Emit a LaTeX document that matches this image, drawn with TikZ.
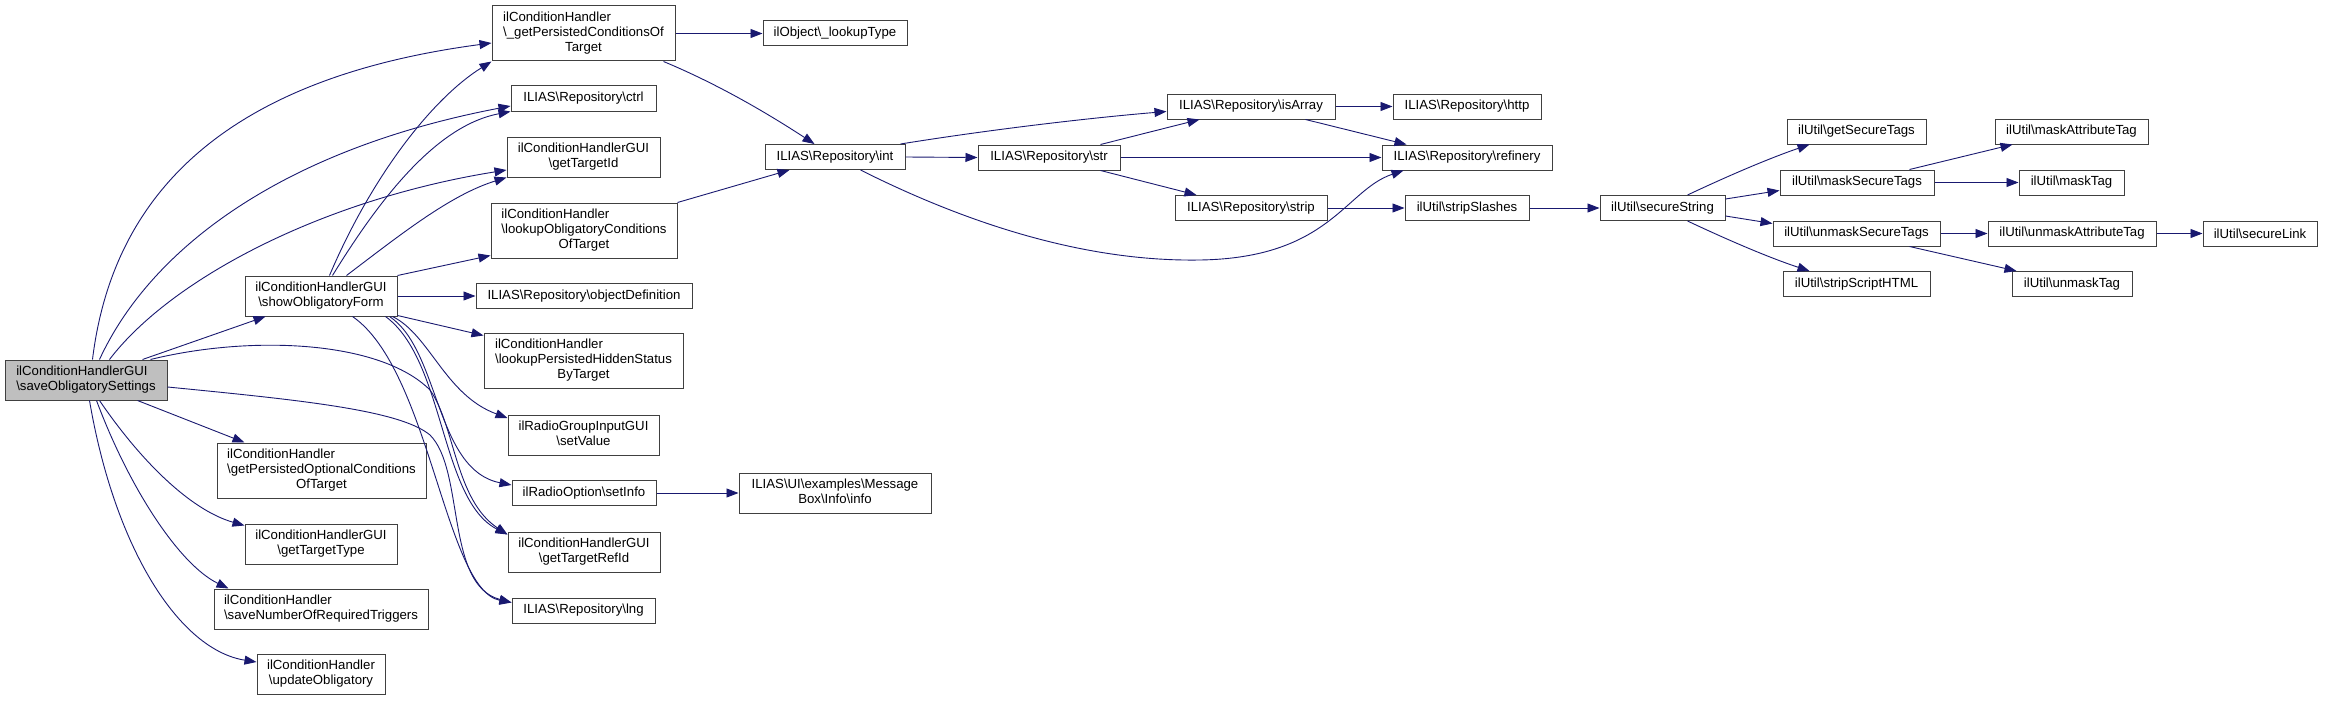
\documentclass[tikz,border=0pt]{standalone}
\usepackage{fontspec}
\setmainfont{Liberation Sans}
\usetikzlibrary{arrows.meta,calc}
\definecolor{edgec}{RGB}{25,25,112}
\definecolor{boxc}{RGB}{64,64,64}
\definecolor{selc}{RGB}{191,191,191}
\newcommand{\bs}{\textbackslash}
\newcommand{\twol}[2]{\begin{tabular}{@{}l@{}}#1\\\multicolumn{1}{@{}c@{}}{#2}\end{tabular}}
\newcommand{\threel}[3]{\begin{tabular}{@{}l@{}}#1\\#2\\\multicolumn{1}{@{}c@{}}{#3}\end{tabular}}
\begin{document}
\begin{tikzpicture}[x=1pt,y=-1pt,
  box/.style={draw=boxc, line width=1pt, fill=white, inner sep=0pt,
    font=\fontsize{13.2}{15}\selectfont, text=black},
  e/.style={draw=edgec, line width=0.9pt, -{Triangle[length=12pt,width=9pt]}}]
\useasboundingbox (0,0) rectangle (2327,701);
\fill[white] (0,0) rectangle (2327,701);

% column 0
\node[box, fill=selc, minimum width=162, minimum height=40] (S) at (86,380) {\twol{ilConditionHandlerGUI}{\bs saveObligatorySettings}};
% column 1
\node[box, minimum width=152, minimum height=40] (F) at (321,296) {\twol{ilConditionHandlerGUI}{\bs showObligatoryForm}};
\node[box, minimum width=209, minimum height=55] (GPO) at (321.5,470.5) {\threel{ilConditionHandler}{\bs getPersistedOptionalConditions}{OfTarget}};
\node[box, minimum width=152, minimum height=40] (GTT) at (321,544) {\twol{ilConditionHandlerGUI}{\bs getTargetType}};
\node[box, minimum width=214, minimum height=40] (SNR) at (321,609) {\twol{ilConditionHandler}{\bs saveNumberOfRequiredTriggers}};
\node[box, minimum width=128, minimum height=40] (UO) at (321,674) {\twol{ilConditionHandler}{\bs updateObligatory}};
% column 2
\node[box, minimum width=183, minimum height=55] (P) at (583.5,33.5) {\threel{ilConditionHandler}{\bs\_getPersistedConditionsOf}{Target}};
\node[box, minimum width=145, minimum height=25] (CTRL) at (583.5,98.5) {ILIAS\bs Repository\bs ctrl};
\node[box, minimum width=153, minimum height=40] (GTI) at (583.5,157) {\twol{ilConditionHandlerGUI}{\bs getTargetId}};
\node[box, minimum width=186, minimum height=55] (LOC) at (584,230.5) {\threel{ilConditionHandler}{\bs lookupObligatoryConditions}{OfTarget}};
\node[box, minimum width=216, minimum height=25] (OD) at (584,296) {ILIAS\bs Repository\bs objectDefinition};
\node[box, minimum width=199, minimum height=55] (LPH) at (583.5,360.5) {\threel{ilConditionHandler}{\bs lookupPersistedHiddenStatus}{ByTarget}};
\node[box, minimum width=151, minimum height=40] (SV) at (583.5,435) {\twol{ilRadioGroupInputGUI}{\bs setValue}};
\node[box, minimum width=144, minimum height=25] (SI) at (584,493) {ilRadioOption\bs setInfo};
\node[box, minimum width=152, minimum height=40] (GTR) at (584,552) {\twol{ilConditionHandlerGUI}{\bs getTargetRefId}};
\node[box, minimum width=143, minimum height=25] (LNG) at (583.5,610.5) {ILIAS\bs Repository\bs lng};
% column 3
\node[box, minimum width=144, minimum height=25] (LT) at (835,33.5) {ilObject\bs\_lookupType};
\node[box, minimum width=140, minimum height=25] (INT) at (835,157) {ILIAS\bs Repository\bs int};
\node[box, minimum width=192, minimum height=40] (INFO) at (835,493) {\twol{ILIAS\bs UI\bs examples\bs Message}{Box\bs Info\bs info}};
% column 4
\node[box, minimum width=142, minimum height=25] (STR) at (1049,157.5) {ILIAS\bs Repository\bs str};
% column 5
\node[box, minimum width=168, minimum height=25] (ISA) at (1251,106.5) {ILIAS\bs Repository\bs isArray};
\node[box, minimum width=152, minimum height=25] (STRIP) at (1251,208) {ILIAS\bs Repository\bs strip};
% column 6
\node[box, minimum width=148, minimum height=25] (HTTP) at (1467,106.5) {ILIAS\bs Repository\bs http};
\node[box, minimum width=170, minimum height=25] (REF) at (1467,157.5) {ILIAS\bs Repository\bs refinery};
\node[box, minimum width=124, minimum height=25] (SS) at (1467,208) {ilUtil\bs stripSlashes};
% column 7
\node[box, minimum width=125, minimum height=25] (SEC) at (1662.5,208) {ilUtil\bs secureString};
% column 8
\node[box, minimum width=139, minimum height=25] (GST) at (1856.5,131.5) {ilUtil\bs getSecureTags};
\node[box, minimum width=154, minimum height=25] (MST) at (1857,182.5) {ilUtil\bs maskSecureTags};
\node[box, minimum width=167, minimum height=25] (UST) at (1856.5,233.5) {ilUtil\bs unmaskSecureTags};
\node[box, minimum width=147, minimum height=25] (SSH) at (1856.5,284) {ilUtil\bs stripScriptHTML};
% column 9
\node[box, minimum width=153, minimum height=25] (MAT) at (2071.5,131.5) {ilUtil\bs maskAttributeTag};
\node[box, minimum width=105, minimum height=25] (MT) at (2071.5,182.5) {ilUtil\bs maskTag};
\node[box, minimum width=168, minimum height=25] (UAT) at (2072,233.5) {ilUtil\bs unmaskAttributeTag};
\node[box, minimum width=120, minimum height=25] (UT) at (2072,284) {ilUtil\bs unmaskTag};
% column 10
\node[box, minimum width=114, minimum height=25] (SL) at (2260,233.5) {ilUtil\bs secureLink};

% edges from S
\draw[e] ($(S.north west)+(88,0)$) .. controls (115,175) and (250,75) .. ($(P.west)+(0,9.5)$);
\draw[e] ($(S.north west)+(95,0)$) .. controls (150,250) and (280,150) .. ($(CTRL.west)+(0,7.5)$);
\draw[e] ($(S.north west)+(105,0)$) .. controls (170,280) and (320,200) .. ($(GTI.west)+(0,13)$);
\draw[e] ($(S.north west)+(138,0)$) -- ($(F.south west)+(21,0)$);
\draw[e] ($(S.south west)+(133,0)$) -- ($(GPO.north west)+(28,0)$);
\draw[e] ($(S.south west)+(95,0)$) .. controls (140,460) and (190,510) .. ($(GTT.north west)+(0,2)$);
\draw[e] ($(S.south west)+(92,0)$) .. controls (130,490) and (180,565) .. ($(SNR.north west)+(15,0)$);
\draw[e] ($(S.south west)+(85,0)$) .. controls (115,550) and (180,650) .. ($(UO.west)+(0,-12)$);
\draw[e] ($(S.north east)+(-17,0)$) .. controls (250,335) and (380,340) .. (430,390) .. controls (455,425) and (455,500) .. ($(GTR.north west)+(0,3)$);
\draw[e] ($(S.east)+(0,7)$) .. controls (300,400) and (400,410) .. (430,435) .. controls (465,470) and (445,585) .. ($(LNG.north west)+(0,5)$);

% edges from F
\draw[e] ($(F.north west)+(85,0)$) .. controls (370,180) and (430,100) .. (P.south west);
\draw[e] ($(F.north west)+(88,0)$) .. controls (385,190) and (440,125) .. (CTRL.south west);
\draw[e] ($(F.north west)+(102,0)$) .. controls (400,235) and (450,195) .. (GTI.south west);
\draw[e] (F.north east) -- ($(LOC.south west)+(0,-3)$);
\draw[e] (F.east) -- (OD.west);
\draw[e] ($(F.south east)+(0,-1)$) -- ($(LPH.north west)+(0,3)$);
\draw[e] ($(F.south east)+(-5,0)$) .. controls (430,335) and (445,395) .. ($(SV.west)+(0,-17)$);
\draw[e] ($(F.south east)+(-8,0)$) .. controls (440,350) and (435,470) .. ($(SI.west)+(0,-8)$);
\draw[e] ($(F.south east)+(-12,0)$) .. controls (445,360) and (440,500) .. ($(GTR.north west)+(0,3)$);
\draw[e] ($(F.south west)+(108,0)$) .. controls (430,370) and (445,590) .. ($(LNG.north west)+(0,5)$);

% other edges
\draw[e] (P.east) -- (LT.west);
\draw[e] ($(P.south east)+(-12,0)$) .. controls (720,85) and (770,115) .. ($(INT.north west)+(50,0)$);
\draw[e] (LOC.north east) -- ($(INT.south west)+(25,0)$);
\draw[e] (SI.east) -- (INFO.west);
\draw[e] ($(INT.north east)+(-5,0)$) .. controls (1000,128) and (1100,117) .. ($(ISA.west)+(0,5)$);
\draw[e] (INT.east) -- (STR.west);
\draw[e] ($(INT.south east)+(-45,0)$) .. controls (960,220) and (1080,262) .. (1200,260) .. controls (1330,258) and (1345,190) .. ($(REF.south west)+(22,0)$);
\draw[e] ($(STR.north east)+(-20,0)$) -- ($(ISA.south west)+(33,0)$);
\draw[e] (STR.east) -- (REF.west);
\draw[e] ($(STR.south east)+(-20,0)$) -- ($(STRIP.north west)+(22,0)$);
\draw[e] (ISA.east) -- (HTTP.west);
\draw[e] ($(ISA.south east)+(-30,0)$) -- ($(REF.north west)+(25,0)$);
\draw[e] (STRIP.east) -- (SS.west);
\draw[e] (SS.east) -- (SEC.west);
\draw[e] ($(SEC.north west)+(88,0)$) .. controls (1730,175) and (1770,158) .. ($(GST.south west)+(23,0)$);
\draw[e] ($(SEC.east)+(0,-9)$) -- ($(MST.west)+(0,8)$);
\draw[e] ($(SEC.east)+(0,8)$) -- ($(UST.west)+(0,-10)$);
\draw[e] ($(SEC.south west)+(88,0)$) .. controls (1730,241) and (1770,258) .. ($(SSH.north west)+(27,0)$);
\draw[e] ($(MST.north west)+(130,0)$) -- ($(MAT.south west)+(18,0)$);
\draw[e] (MST.east) -- (MT.west);
\draw[e] (UST.east) -- (UAT.west);
\draw[e] ($(UST.south west)+(137,0)$) -- ($(UT.north west)+(5,0)$);
\draw[e] (UAT.east) -- (SL.west);
\end{tikzpicture}
\end{document}
